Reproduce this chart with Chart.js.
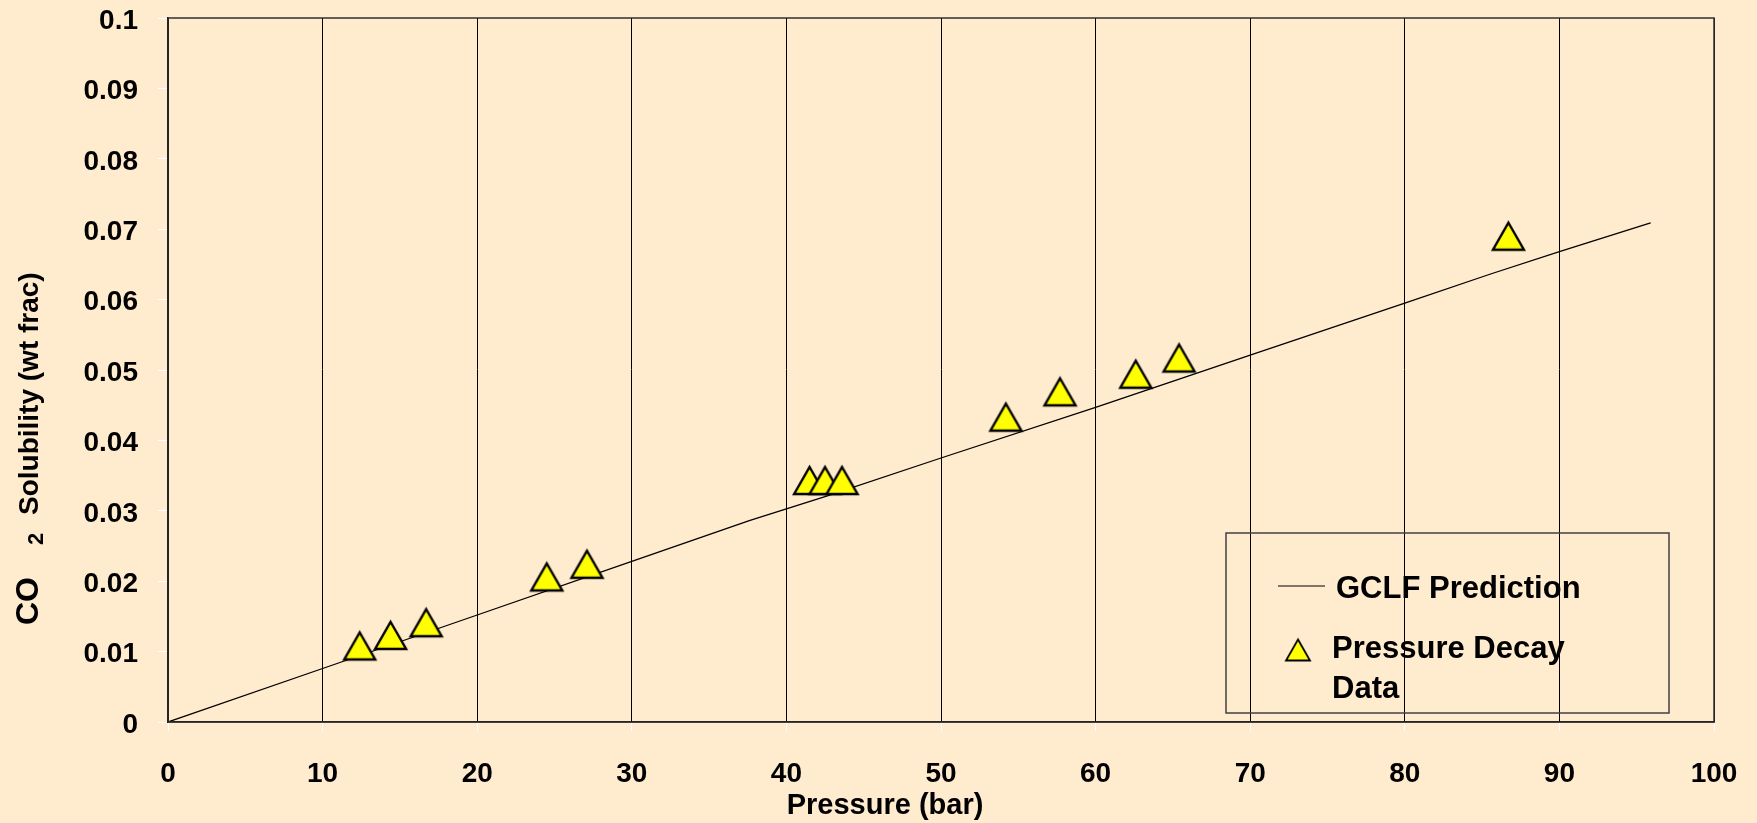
<!DOCTYPE html>
<html>
<head>
<meta charset="utf-8">
<script src="https://cdn.jsdelivr.net/npm/chart.js@4/dist/chart.umd.min.js"></script>
<style>
  html, body { margin: 0; padding: 0; background: #FFEBCD; }
  #chart { display: block; }
</style>
</head>
<body>
<canvas id="chart" width="1757" height="823"></canvas>
<script>
/* ── data ──────────────────────────────────────────────────── */
const xTickLabels = ['0','10','20','30','40','50','60','70','80','90','100'];
const yTickLabels = ['0','0.01','0.02','0.03','0.04','0.05','0.06','0.07','0.08','0.09','0.1'];

// GCLF prediction curve
const gclfPressure   = [0, 10, 20, 30, 37.6, 42.6, 50, 60, 70, 80, 85.5, 90, 95.9];
const gclfSolubility = [0, 0.0076, 0.0152, 0.0228, 0.0286, 0.0321, 0.0375, 0.0447, 0.0521, 0.0595, 0.0636, 0.0668, 0.0709];

// pressure decay measurements
const decayPressure   = [12.4, 14.4, 16.7, 24.5, 27.1, 41.5, 42.5, 43.6, 54.2, 57.7, 62.6, 65.4, 86.7];
const decaySolubility = [0.0108, 0.0123, 0.0141, 0.0206, 0.0224, 0.0343, 0.0343, 0.0343, 0.0433, 0.0469, 0.0494, 0.0517, 0.0690];

const FONT = "'Liberation Sans', Arial, sans-serif";

/* ── triangle marker (centred on its box, like the original) ── */
function makeTriangle(w, h, lw) {
  const c = document.createElement('canvas');
  c.width = w + 10; c.height = h + 10;
  const g = c.getContext('2d');
  const cx = c.width / 2, cy = c.height / 2;
  g.beginPath();
  g.moveTo(cx, cy - h / 2);
  g.lineTo(cx + w / 2, cy + h / 2);
  g.lineTo(cx - w / 2, cy + h / 2);
  g.closePath();
  g.fillStyle = '#FFFF00';
  g.fill();
  g.lineWidth = lw;
  g.strokeStyle = '#000';
  g.lineJoin = 'miter';
  g.stroke();
  return c;
}
const triMarker = makeTriangle(31, 27, 2.4);
const triLegend = makeTriangle(24, 21, 1.8);

/* ── plot frame, axis titles and boxed legend ──────────────── */
const decorPlugin = {
  id: 'decor',
  afterDraw(chart) {
    const ctx = chart.ctx, a = chart.chartArea;
    ctx.save();

    // frame round the plot area
    ctx.strokeStyle = '#303030';
    ctx.lineWidth = 1.5;
    ctx.strokeRect(a.left, a.top, a.right - a.left, a.bottom - a.top);

    // x axis title
    ctx.fillStyle = '#000';
    ctx.font = 'bold 29px ' + FONT;
    ctx.textAlign = 'center';
    ctx.textBaseline = 'alphabetic';
    ctx.fillText('Pressure (bar)', 885, 814);

    // y axis title: CO2 with a subscript 2
    ctx.save();
    ctx.translate(38, 625);
    ctx.rotate(-Math.PI / 2);
    ctx.textAlign = 'left';
    ctx.font = 'bold 32px ' + FONT;
    ctx.fillText('CO', 0, 0);
    ctx.font = 'bold 22px ' + FONT;
    ctx.fillText('2', 80, 5);
    ctx.font = 'bold 28px ' + FONT;
    ctx.fillText('Solubility (wt frac)', 110, 0);
    ctx.restore();

    // legend box
    const lx = a.left + 1058, ly = a.top + 515;
    ctx.strokeStyle = '#404040';
    ctx.lineWidth = 1.5;
    ctx.strokeRect(lx, ly, 443, 180);

    const ds = chart.data.datasets;
    ctx.strokeStyle = '#000';
    ctx.lineWidth = 1;
    ctx.beginPath();
    ctx.moveTo(lx + 52, ly + 53);
    ctx.lineTo(lx + 99, ly + 53);
    ctx.stroke();

    ctx.drawImage(triLegend, lx + 72 - triLegend.width / 2, ly + 117 - triLegend.height / 2);

    ctx.fillStyle = '#000';
    ctx.font = 'bold 31px ' + FONT;
    ctx.textAlign = 'left';
    ctx.fillText(ds[0].label, lx + 110, ly + 65);
    const words = ds[1].label.split(' ');
    ctx.fillText(words.slice(0, 2).join(' '), lx + 106, ly + 125);
    ctx.fillText(words.slice(2).join(' '), lx + 106, ly + 165);

    ctx.restore();
  }
};

new Chart(document.getElementById('chart'), {
  type: 'scatter',
  data: {
    datasets: [
      {
        label: 'GCLF Prediction',
        data: gclfPressure.map((p, i) => ({ x: p, y: gclfSolubility[i] })),
        showLine: true,
        borderColor: '#000',
        borderWidth: 1.3,
        pointRadius: 0,
        tension: 0,
        order: 2,
      },
      {
        label: 'Pressure Decay Data',
        data: decayPressure.map((p, i) => ({ x: p, y: decaySolubility[i] })),
        pointStyle: triMarker,
        pointRadius: 16,
        order: 1,
      }
    ]
  },
  options: {
    responsive: false,
    animation: false,
    devicePixelRatio: 1,
    layout: { padding: { left: 0, right: 43, top: 18, bottom: 0 } },
    plugins: {
      legend: { display: false },
      tooltip: { enabled: false },
    },
    scales: {
      x: {
        type: 'linear', min: 0, max: 100,
        afterFit: s => { s.height = 101; s.paddingLeft = 0; s.paddingRight = 0; },
        afterBuildTicks: s => { s.ticks = xTickLabels.map(v => ({ value: +v })); },
        ticks: {
          callback: (v, i) => xTickLabels[i],
          color: '#000', padding: 26,
          font: { family: FONT, size: 28, weight: 'bold' },
        },
        grid: { color: '#000', lineWidth: 1, tickColor: '#FFFFFF', tickLength: 9 },
        border: { color: '#000', width: 1.5 },
      },
      y: {
        type: 'linear', min: 0, max: 0.1,
        afterFit: s => { s.width = 168; s.paddingTop = 0; s.paddingBottom = 0; },
        afterBuildTicks: s => { s.ticks = yTickLabels.map(v => ({ value: +v })); },
        ticks: {
          callback: (v, i) => yTickLabels[i],
          color: '#000', padding: 20, labelOffset: 3,
          font: { family: FONT, size: 28, weight: 'bold' },
        },
        grid: { drawOnChartArea: false, tickColor: '#FFFFFF', tickLength: 10 },
        border: { color: '#000', width: 1.5 },
      }
    }
  },
  plugins: [decorPlugin]
});
</script>
</body>
</html>
